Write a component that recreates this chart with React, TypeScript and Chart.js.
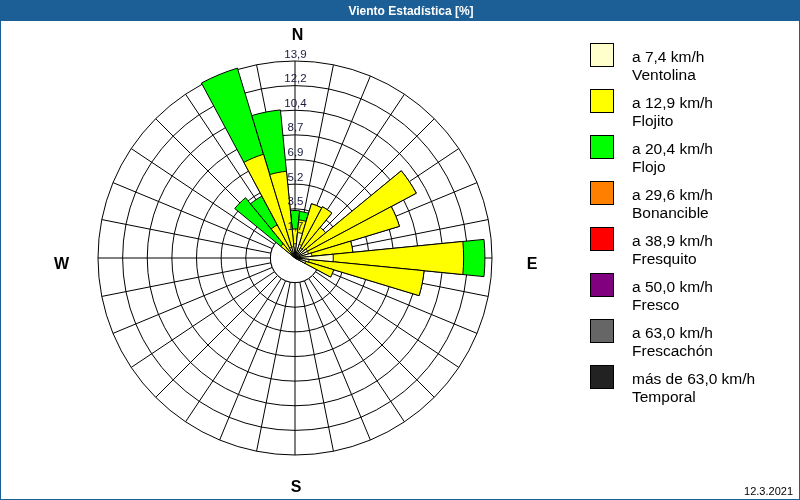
import { useEffect, useRef } from "react";
import { Chart, registerables } from "chart.js";

Chart.register(...registerables);

// 32 compass directions, clockwise from north
const DIRECTIONS = [
  "N", "NxE", "NNE", "NExN", "NE", "NExE", "ENE", "ExN",
  "E", "ExS", "ESE", "SExE", "SE", "SExS", "SSE", "SxE",
  "S", "SxW", "SSW", "SWxS", "SW", "SWxW", "WSW", "WxS",
  "W", "WxN", "WNW", "NWxW", "NW", "NWxN", "NNW", "NxW",
];

// frequency [%] per direction and speed class
const VENTOLINA = [1.0, 1.8, 1.0, 0.8, 0.8, 1.0, 1.0, 1.2, 2.7, 1.0, 0.8, 0, 0, 0, 0, 0, 0, 0, 0, 0, 0, 0, 0, 0, 0, 0, 0, 0, 0.3, 0.5, 0.8, 0.8];
const FLOJITO = [1.05, 0.9, 3.0, 3.3, 2.0, 8.7, 6.7, 2.9, 9.2, 8.15, 2.05, 0, 0, 0, 0, 0, 0, 0, 0, 0, 0, 0, 0, 0, 0, 0, 0, 0, 1.0, 2.15, 6.85, 5.35];
const FLOJO = [1.3, 0.6, 0, 0, 0, 0, 0, 0, 1.5, 0, 0, 0, 0, 0, 0, 0, 0, 0, 0, 0, 0, 0, 0, 0, 0, 0, 0, 0, 4.2, 2.3, 6.35, 4.35];

// radial rings
const RING_VALUES = [1.7375, 3.475, 5.2125, 6.95, 8.6875, 10.425, 12.1625, 13.9];
const RING_LABELS = ["1,7", "3,5", "5,2", "6,9", "8,7", "10,4", "12,2", "13,9"];

// legend
const SPEED_LABELS = ["a 7,4 km/h", "a 12,9 km/h", "a 20,4 km/h", "a 29,6 km/h", "a 38,9 km/h", "a 50,0 km/h", "a 63,0 km/h", "más de 63,0 km/h"];
const CLASS_NAMES = ["Ventolina", "Flojito", "Flojo", "Bonancible", "Fresquito", "Fresco", "Frescachón", "Temporal"];
const CLASS_COLORS = ["#ffffcc", "#ffff00", "#00ff00", "#ff8000", "#ff0000", "#800080", "#666666", "#222222"];

const COMPASS = ["N", "E", "S", "W"];
const TITLE = "Viento Estadística [%]";
const DATE_TEXT = "12.3.2021";
const FRAME_COLOR = "#1c5f96";

const rosePlugin = {
  id: "rose",
  beforeDraw(chart: any) {
    const ctx = chart.ctx;
    ctx.save();
    ctx.fillStyle = "#ffffff";
    ctx.fillRect(0, 0, chart.width, chart.height);
    ctx.restore();
  },
  beforeDatasetsDraw(chart: any) {
    const ctx = chart.ctx;
    const s = chart.scales.r;
    const cx = s.xCenter;
    const cy = s.yCenter;
    const rh = s.getDistanceFromCenterForValue(RING_VALUES[0]);
    const ro = s.getDistanceFromCenterForValue(RING_VALUES[RING_VALUES.length - 1]);
    ctx.save();
    ctx.strokeStyle = "#000";
    ctx.lineWidth = 1;
    const n = DIRECTIONS.length;
    for (let i = 0; i < n; i++) {
      const a = (i * 2 * Math.PI) / n - Math.PI / 2;
      ctx.beginPath();
      ctx.moveTo(cx + rh * Math.cos(a), cy + rh * Math.sin(a));
      ctx.lineTo(cx + ro * Math.cos(a), cy + ro * Math.sin(a));
      ctx.stroke();
    }
    ctx.beginPath();
    ctx.arc(cx, cy, rh, 0, Math.PI * 2);
    ctx.fillStyle = "#fff";
    ctx.fill();
    ctx.stroke();
    ctx.restore();
  },
  afterDatasetsDraw(chart: any) {
    const ctx = chart.ctx;
    const s = chart.scales.r;
    const cx = s.xCenter;
    const cy = s.yCenter;
    ctx.save();
    ctx.fillStyle = "#1a1a40";
    ctx.font = '11.5px "Liberation Sans", Arial, sans-serif';
    ctx.textAlign = "center";
    ctx.textBaseline = "alphabetic";
    RING_VALUES.forEach((v, i) => {
      const y = cy - s.getDistanceFromCenterForValue(v);
      ctx.fillText(RING_LABELS[i], cx + 0.5, y - 3.5);
    });
    ctx.fillStyle = "#000";
    ctx.font = 'bold 16px "Liberation Sans", Arial, sans-serif';
    ctx.textBaseline = "middle";
    const pos = [
      [cx + 2.5, cy - 222],
      [cx + 237, cy + 6.5],
      [cx + 1, cy + 230],
      [cx - 233.5, cy + 6.5],
    ];
    COMPASS.forEach((t, i) => ctx.fillText(t, pos[i][0], pos[i][1]));
    ctx.restore();
  },
  afterDraw(chart: any) {
    const ctx = chart.ctx;
    const W = chart.width;
    const H = chart.height;
    ctx.save();
    // title bar
    ctx.fillStyle = FRAME_COLOR;
    ctx.fillRect(0, 0, W, 21);
    ctx.fillStyle = "#fff";
    ctx.font = 'bold 12px "Liberation Sans", Arial, sans-serif';
    ctx.textAlign = "center";
    ctx.textBaseline = "alphabetic";
    ctx.fillText(TITLE, 411, 14.5);
    // frame
    ctx.strokeStyle = FRAME_COLOR;
    ctx.lineWidth = 1;
    ctx.strokeRect(0.5, 0.5, W - 1, H - 1);
    // date
    ctx.fillStyle = "#000";
    ctx.font = '11px "Liberation Sans", Arial, sans-serif';
    ctx.textAlign = "right";
    ctx.fillText(DATE_TEXT, 793, 495);
    // legend
    ctx.textAlign = "left";
    ctx.font = '15.5px "Liberation Sans", Arial, sans-serif';
    for (let i = 0; i < CLASS_NAMES.length; i++) {
      const y0 = 43 + 46 * i;
      ctx.fillStyle = CLASS_COLORS[i];
      ctx.fillRect(591, y0 + 1, 22, 22);
      ctx.strokeStyle = "#000";
      ctx.strokeRect(590.5, y0 + 0.5, 23, 23);
      ctx.fillStyle = "#000";
      ctx.fillText(SPEED_LABELS[i], 632, y0 + 19);
      ctx.fillText(CLASS_NAMES[i], 632, y0 + 36.5);
    }
    ctx.restore();
  },
};

export default function App() {
  const ref = useRef<HTMLCanvasElement | null>(null);
  useEffect(() => {
    if (!ref.current) return;
    const c1 = VENTOLINA.map((v) => v);
    const c2 = VENTOLINA.map((v, i) => v + FLOJITO[i]);
    const c3 = VENTOLINA.map((v, i) => v + FLOJITO[i] + FLOJO[i]);
    const cums = [c1, c2, c3];
    const chart = new Chart(ref.current, {
      type: "polarArea",
      data: {
        labels: DIRECTIONS,
        datasets: cums.map((d, i) => ({
          label: CLASS_NAMES[i],
          data: d,
          backgroundColor: CLASS_COLORS[i],
          borderColor: "#000",
          borderWidth: 1,
        })),
      },
      options: {
        responsive: false,
        animation: false,
        events: [],
        layout: { padding: { left: 98, top: 61, right: 308, bottom: 45 } },
        plugins: {
          legend: { display: false },
          tooltip: { enabled: false },
        },
        scales: {
          r: {
            min: 0,
            max: 13.9,
            startAngle: -180 / DIRECTIONS.length,
            ticks: { display: false },
            afterBuildTicks: (s: any) => {
              s.ticks = [0, ...RING_VALUES].map((v) => ({ value: v }));
            },
            grid: { circular: true, color: "#000", lineWidth: 1 },
            angleLines: { display: false },
            pointLabels: { display: false },
          },
        },
      } as any,
      plugins: [rosePlugin],
    });
    return () => chart.destroy();
  }, []);
  return (
    <div style={{ position: "fixed", left: 0, top: 0, width: 800, height: 500 }}>
      <canvas ref={ref} width={800} height={500} style={{ display: "block" }} />
    </div>
  );
}
